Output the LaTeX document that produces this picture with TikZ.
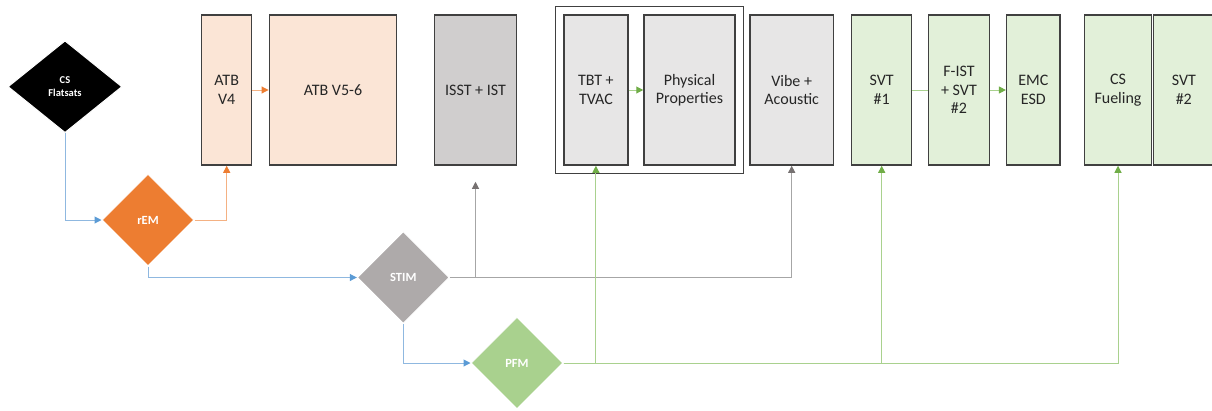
\documentclass[tikz,border=0pt]{standalone}
\usepackage{fontspec}
\setmainfont{Carlito}
\usepackage{tikz}
\usetikzlibrary{shapes.geometric,arrows.meta,positioning,fit}

\definecolor{boxline}{HTML}{404040}
\definecolor{orgfill}{HTML}{FBE5D6}
\definecolor{orgdark}{HTML}{ED7D31}
\definecolor{orgline}{HTML}{F4B183}
\definecolor{grayfill}{HTML}{D0CECE}
\definecolor{lgrayfill}{HTML}{E7E6E6}
\definecolor{graydark}{HTML}{AEAAAA}
\definecolor{grayline}{HTML}{A6A6A6}
\definecolor{grayarrow}{HTML}{767171}
\definecolor{grnfill}{HTML}{E2F0D9}
\definecolor{grndark}{HTML}{A9D18E}
\definecolor{grnline}{HTML}{A9D18E}
\definecolor{grnarrow}{HTML}{70AD47}
\definecolor{blueline}{HTML}{8FB8E0}
\definecolor{bluearrow}{HTML}{5B9BD5}

\tikzset{
  testbox/.style={rectangle, draw=boxline, line width=1.5pt, minimum height=150pt,
    inner sep=0pt, align=center, text=black!85, font=\fontsize{16}{18.5}\selectfont},
  gate/.style={diamond, draw=white, line width=1pt, minimum size=92pt, inner sep=0pt,
    align=center, text=white, font=\fontsize{12.5}{14}\selectfont\bfseries},
  flow/.style 2 args={draw=#1, line width=1pt, -{Triangle[length=7pt,width=7pt,color=#2]}},
}

\begin{document}
\begin{tikzpicture}[x=1pt,y=-1pt]
    \useasboundingbox (0,0) rectangle (1212,410);

    % diamonds
    \node[gate, fill=black, minimum width=114pt, font=\fontsize{10.5}{12.7}\selectfont\bfseries] (flatsats) at (65,86.7) {CS\\Flatsats};
    \node[gate, fill=orgdark] (rem)  at (148,220)   {rEM};
    \node[gate, fill=graydark] (stim) at (403.3,277.5) {STIM};
    \node[gate, fill=grndark] (pfm)  at (517,363)   {PFM};

    % test boxes
    \node[testbox, fill=orgfill, minimum width=50pt]    (atbfour) at (226.7,90) {ATB\\V4};
    \node[testbox, fill=orgfill, minimum width=127.4pt] (atbfive) at (333,90)   {ATB V5-6};
    \node[testbox, fill=grayfill, minimum width=82.4pt] (isst)    at (475.5,90) {ISST + IST};
    \node[testbox, fill=lgrayfill, minimum width=63.7pt] (tbt)    at (595.9,90) {TBT +\\TVAC};
    \node[testbox, fill=lgrayfill, minimum width=91pt]  (phys)    at (689.5,90) {Physical\\Properties};
    \node[testbox, fill=lgrayfill, minimum width=83.3pt] (vibe)   at (791.7,90) {Vibe +\\Acoustic};
    \node[testbox, fill=grnfill, minimum width=60pt]    (svtone)  at (881.7,90) {SVT\\\#1};
    \node[testbox, fill=grnfill, minimum width=60.6pt]  (fist)    at (959,90)   {F-IST\\+ SVT\\\#2};
    \node[testbox, fill=grnfill, minimum width=53.3pt]  (emc)     at (1033.3,90) {EMC\\ESD};
    \node[testbox, fill=grnfill, minimum width=67.4pt]  (fuel)    at (1118,90)  {CS\\Fueling};
    \node[testbox, fill=grnfill, minimum width=61pt]    (svttwo)  at (1183.8,90) {SVT\\\#2};

    \node[draw=boxline, line width=1.2pt, fit=(tbt)(phys), inner sep=7.5pt] (tvacgroup) {};

    % connectors
    \draw[flow={blueline}{bluearrow}] (flatsats.south) |- (rem.west);
    \draw[flow={blueline}{bluearrow}] (rem.south) |- (stim.west);
    \draw[flow={blueline}{bluearrow}] (stim.south) |- (pfm.west);

    \draw[flow={orgline}{orgdark}] (rem.east) -| (atbfour.south);
    \draw[flow={orgline}{orgdark}] (atbfour.east) -- (atbfive.west);

    \draw[flow={grayline}{grayarrow}] (stim.east) -| ([yshift=-16pt]isst.south);
    \draw[flow={grayline}{grayarrow}] (stim.east) -| (vibe.south);

    \draw[flow={grnline}{grnarrow}] (pfm.east) -| (tbt.south);
    \draw[flow={grnline}{grnarrow}] (pfm.east) -| (svtone.south);
    \draw[flow={grnline}{grnarrow}] (pfm.east) -| (fuel.south);
    \draw[flow={grnline}{grnarrow}] (tbt.east) -- (phys.west);
    \draw[draw=grnline, line width=1pt] (svtone.east) -- (fist.west);
    \draw[flow={grnline}{grnarrow}] (fist.east) -- (emc.west);
\end{tikzpicture}
\end{document}
